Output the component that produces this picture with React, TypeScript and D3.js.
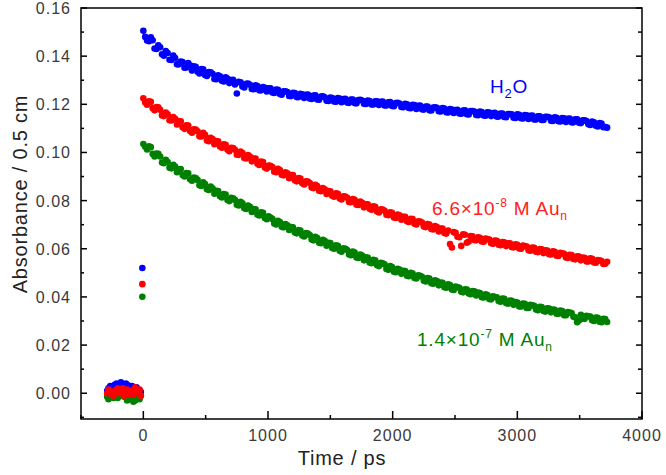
import React from "react";
import * as d3 from "d3";

// time grid of the decay traces (ps)
const times = [
  0, 30, 60, 90, 120, 150, 180, 210, 240, 270, 300, 330, 360, 390, 420, 450, 480, 510, 540, 570,
  600, 630, 660, 690, 720, 750, 780, 810, 840, 870, 900, 930, 960, 990, 1020, 1050, 1080, 1110, 1140, 1170,
  1200, 1230, 1260, 1290, 1320, 1350, 1380, 1410, 1440, 1470, 1500, 1530, 1560, 1590, 1620, 1650, 1680, 1710, 1740, 1770,
  1800, 1830, 1860, 1890, 1920, 1950, 1980, 2010, 2040, 2070, 2100, 2130, 2160, 2190, 2220, 2250, 2280, 2310, 2340, 2370,
  2400, 2430, 2460, 2490, 2520, 2550, 2580, 2610, 2640, 2670, 2700, 2730, 2760, 2790, 2820, 2850, 2880, 2910, 2940, 2970,
  3000, 3030, 3060, 3090, 3120, 3150, 3180, 3210, 3240, 3270, 3300, 3330, 3360, 3390, 3420, 3450, 3480, 3510, 3540, 3570,
  3600, 3630, 3660, 3690, 3720,
];

const water = [
  0.1505, 0.1465, 0.1478, 0.1432, 0.1445, 0.1408, 0.1421, 0.1385, 0.1402, 0.1366, 0.1378, 0.1352, 0.1371, 0.134, 0.1356, 0.1328, 0.1345, 0.1318, 0.1333, 0.1305,
  0.1321, 0.1298, 0.1312, 0.1288, 0.1302, 0.1245, 0.1291, 0.127, 0.1286, 0.1264, 0.1279, 0.1258, 0.1272, 0.1253, 0.1266, 0.1247, 0.126, 0.124, 0.1254, 0.1235,
  0.1248, 0.123, 0.1244, 0.1226, 0.1241, 0.1222, 0.1237, 0.1219, 0.1233, 0.1215, 0.1228, 0.1212, 0.1226, 0.1209, 0.1223, 0.1206, 0.122, 0.1204, 0.1219, 0.1202,
  0.1216, 0.1199, 0.1213, 0.1197, 0.1211, 0.1195, 0.1209, 0.1192, 0.1206, 0.1189, 0.1202, 0.1185, 0.1198, 0.1181, 0.1195, 0.1178, 0.1191, 0.1174, 0.1188, 0.1171,
  0.1184, 0.1167, 0.118, 0.1164, 0.1177, 0.1161, 0.1175, 0.1158, 0.1172, 0.1156, 0.117, 0.1154, 0.1167, 0.1151, 0.1165, 0.1149, 0.1162, 0.1146, 0.116, 0.1144,
  0.1158, 0.1142, 0.1155, 0.1139, 0.1153, 0.1137, 0.115, 0.1135, 0.1148, 0.1132, 0.1146, 0.113, 0.1143, 0.1127, 0.1141, 0.1125, 0.1138, 0.1122, 0.1134, 0.1117,
  0.1128, 0.1111, 0.1122, 0.1105, 0.1103,
];

const auLow = [
  0.1225, 0.1198, 0.121, 0.1175, 0.1188, 0.1154, 0.1166, 0.1134, 0.1147, 0.1116, 0.1129, 0.1098, 0.1112, 0.1082, 0.1095, 0.1067, 0.1082, 0.105, 0.1061, 0.1034,
  0.1046, 0.102, 0.1032, 0.1005, 0.1018, 0.0991, 0.1004, 0.0977, 0.0989, 0.0963, 0.0975, 0.0948, 0.096, 0.0933, 0.0945, 0.092, 0.0932, 0.0907, 0.0918, 0.0893,
  0.0906, 0.088, 0.0892, 0.0867, 0.0879, 0.0854, 0.0866, 0.0841, 0.0852, 0.0828, 0.0839, 0.0816, 0.0828, 0.0805, 0.0817, 0.0794, 0.0807, 0.0783, 0.0796, 0.0772,
  0.0785, 0.0762, 0.0774, 0.0751, 0.0763, 0.0741, 0.0752, 0.073, 0.0742, 0.0721, 0.0733, 0.0711, 0.0723, 0.0701, 0.0713, 0.0692, 0.0703, 0.0682, 0.0694, 0.0672,
  0.0684, 0.0663, 0.062, 0.0669, 0.065, 0.0612, 0.0658, 0.063, 0.0652, 0.0635, 0.0646, 0.0629, 0.064, 0.0623, 0.0634, 0.0617, 0.0628, 0.0611, 0.0623, 0.0606,
  0.0617, 0.06, 0.0611, 0.0594, 0.0605, 0.0588, 0.0599, 0.0582, 0.0593, 0.0576, 0.0587, 0.057, 0.0581, 0.0564, 0.0575, 0.0558, 0.0569, 0.0552, 0.0563, 0.0547,
  0.0558, 0.0542, 0.0552, 0.0537, 0.0546,
];

const auHigh = [
  0.1035, 0.1012, 0.1022, 0.0983, 0.0994, 0.0958, 0.097, 0.0936, 0.0949, 0.0918, 0.0931, 0.09, 0.0913, 0.0883, 0.0894, 0.0864, 0.0876, 0.0847, 0.0858, 0.0829,
  0.084, 0.0813, 0.0825, 0.0798, 0.081, 0.0783, 0.0795, 0.0768, 0.0779, 0.0753, 0.0764, 0.0738, 0.0749, 0.0723, 0.073, 0.0705, 0.0716, 0.0691, 0.0703, 0.0678,
  0.0689, 0.0664, 0.0676, 0.0651, 0.0663, 0.0638, 0.065, 0.0625, 0.0637, 0.0613, 0.0624, 0.06, 0.0612, 0.0588, 0.06, 0.0576, 0.0588, 0.0564, 0.0576, 0.0552,
  0.0564, 0.054, 0.0552, 0.0528, 0.054, 0.0516, 0.0528, 0.0505, 0.0517, 0.0496, 0.0507, 0.0486, 0.0497, 0.0477, 0.0488, 0.0467, 0.0478, 0.0457, 0.0469, 0.0448,
  0.0459, 0.0438, 0.0449, 0.0429, 0.044, 0.0422, 0.0432, 0.0414, 0.0424, 0.0406, 0.0416, 0.0398, 0.0408, 0.039, 0.04, 0.0383, 0.0393, 0.0375, 0.0385, 0.0367,
  0.0377, 0.036, 0.0371, 0.0354, 0.0365, 0.0348, 0.0359, 0.0342, 0.0353, 0.0336, 0.0347, 0.033, 0.0341, 0.0324, 0.0335, 0.0318, 0.0295, 0.0326, 0.0309, 0.032,
  0.0303, 0.0314, 0.0297, 0.0309, 0.0296,
];

// the interleaved sweep, offset by half a step
const times2 = [
  15, 45, 75, 105, 135, 165, 195, 225, 255, 285, 315, 345, 375, 405, 435, 465, 495, 525, 555, 585,
  615, 645, 675, 705, 735, 765, 795, 825, 855, 885, 915, 945, 975, 1005, 1035, 1065, 1095, 1125, 1155, 1185,
  1215, 1245, 1275, 1305, 1335, 1365, 1395, 1425, 1455, 1485, 1515, 1545, 1575, 1605, 1635, 1665, 1695, 1725, 1755, 1785,
  1815, 1845, 1875, 1905, 1935, 1965, 1995, 2025, 2055, 2085, 2115, 2145, 2175, 2205, 2235, 2265, 2295, 2325, 2355, 2385,
  2415, 2445, 2475, 2505, 2535, 2565, 2595, 2625, 2655, 2685, 2715, 2745, 2775, 2805, 2835, 2865, 2895, 2925, 2955, 2985,
  3015, 3045, 3075, 3105, 3135, 3165, 3195, 3225, 3255, 3285, 3315, 3345, 3375, 3405, 3435, 3465, 3495, 3525, 3555, 3585,
  3615, 3645, 3675, 3705,
];

const water2 = [
  0.148, 0.1462, 0.1466, 0.143, 0.1437, 0.1402, 0.1413, 0.1384, 0.1392, 0.1366, 0.1376, 0.1353, 0.1362, 0.1358, 0.1335, 0.1346, 0.1322, 0.1334, 0.1327, 0.1304,
  0.1316, 0.1295, 0.1307, 0.1301, 0.1282, 0.1293, 0.1274, 0.1285, 0.1281, 0.1263, 0.1276, 0.1258, 0.1269, 0.1266, 0.1249, 0.1261, 0.1243, 0.1254, 0.1251, 0.1234,
  0.1247, 0.123, 0.1242, 0.1239, 0.1224, 0.1236, 0.122, 0.1232, 0.1229, 0.1214, 0.1226, 0.1211, 0.1224, 0.1222, 0.1207, 0.122, 0.1205, 0.1218, 0.1216, 0.1201,
  0.1214, 0.1199, 0.1212, 0.121, 0.1195, 0.1208, 0.1193, 0.1205, 0.1203, 0.1188, 0.12, 0.1184, 0.1197, 0.1194, 0.1179, 0.1191, 0.1175, 0.1187, 0.1185, 0.117,
  0.1182, 0.1166, 0.1178, 0.1176, 0.1162, 0.1174, 0.1159, 0.1172, 0.117, 0.1155, 0.1168, 0.1153, 0.1166, 0.1164, 0.1149, 0.1162, 0.1147, 0.116, 0.1158, 0.1143,
  0.1156, 0.1141, 0.1154, 0.1152, 0.1137, 0.115, 0.1135, 0.1148, 0.1146, 0.1131, 0.1144, 0.1129, 0.1142, 0.114, 0.1125, 0.1138, 0.1123, 0.1134, 0.113, 0.1114,
  0.1125, 0.1108, 0.112, 0.1106,
];

const auLow2 = [
  0.1208, 0.1212, 0.1184, 0.1189, 0.1177, 0.1151, 0.1158, 0.1133, 0.114, 0.113, 0.1105, 0.1113, 0.1089, 0.1096, 0.1088, 0.1066, 0.1073, 0.1047, 0.1056, 0.1047,
  0.1025, 0.1034, 0.1011, 0.1019, 0.1011, 0.099, 0.0998, 0.0975, 0.0983, 0.0975, 0.0953, 0.0962, 0.0938, 0.0946, 0.0939, 0.0918, 0.0927, 0.0905, 0.0913, 0.0906,
  0.0885, 0.0894, 0.0872, 0.088, 0.0873, 0.0852, 0.0861, 0.0839, 0.0847, 0.084, 0.082, 0.083, 0.0809, 0.0818, 0.0812, 0.0793, 0.0803, 0.0782, 0.0791, 0.0785,
  0.0766, 0.0776, 0.0755, 0.0764, 0.0758, 0.0739, 0.0749, 0.0728, 0.0739, 0.0733, 0.0714, 0.0725, 0.0704, 0.0714, 0.0709, 0.069, 0.0701, 0.068, 0.069, 0.0684,
  0.0666, 0.0676, 0.0605, 0.0666, 0.0648, 0.066, 0.0625, 0.0653, 0.0636, 0.0648, 0.063, 0.0642, 0.0638, 0.0621, 0.0633, 0.0615, 0.0627, 0.0623, 0.0607, 0.0619,
  0.0601, 0.0613, 0.0609, 0.0592, 0.0604, 0.0586, 0.0598, 0.0594, 0.0577, 0.0589, 0.0571, 0.0583, 0.0579, 0.0562, 0.0574, 0.0556, 0.0568, 0.0564, 0.0547, 0.056,
  0.0543, 0.0553, 0.0549, 0.0538,
];

const auHigh2 = [
  0.1024, 0.1026, 0.0994, 0.0996, 0.0983, 0.0955, 0.096, 0.0934, 0.0941, 0.093, 0.0906, 0.0914, 0.0889, 0.0896, 0.0886, 0.0861, 0.0869, 0.0844, 0.0851, 0.0841,
  0.0818, 0.0827, 0.0803, 0.0812, 0.0803, 0.078, 0.0789, 0.0765, 0.0774, 0.0765, 0.0742, 0.0751, 0.0728, 0.0735, 0.0724, 0.0701, 0.0711, 0.0689, 0.0698, 0.069,
  0.0668, 0.0678, 0.0655, 0.0665, 0.0657, 0.0635, 0.0645, 0.0623, 0.0633, 0.0625, 0.0603, 0.0614, 0.0592, 0.0602, 0.0595, 0.0573, 0.0584, 0.0562, 0.0572, 0.0565,
  0.0543, 0.0554, 0.0532, 0.0542, 0.0535, 0.0513, 0.0524, 0.0503, 0.0514, 0.0509, 0.0488, 0.05, 0.0479, 0.049, 0.0484, 0.0464, 0.0476, 0.0455, 0.0466, 0.046,
  0.044, 0.0452, 0.0431, 0.0443, 0.0438, 0.0419, 0.0431, 0.0411, 0.0423, 0.0418, 0.0399, 0.0411, 0.0391, 0.0403, 0.0398, 0.038, 0.0392, 0.0372, 0.0384, 0.0379,
  0.036, 0.0373, 0.0354, 0.0367, 0.0363, 0.0345, 0.0358, 0.0339, 0.0352, 0.0348, 0.033, 0.0343, 0.0324, 0.0337, 0.0333, 0.0315, 0.0302, 0.031, 0.0322, 0.0318,
  0.03, 0.0313, 0.0295, 0.0308,
];

// baseline before time zero plus the single point at the pump arrival
const preTimes = [
  -290, -280, -265, -255, -240, -230, -215, -205, -190, -180, -165, -155, -140, -130, -115, -105, -90, -80, -65, -55, -40, -30, -20, -8,
];
const waterPre = [
  0.001, 0.002, 0.003, 0.0015, 0.0025, 0.0035, 0.004, 0.003, 0.0035, 0.0045, 0.003, 0.002, 0.004, 0.0035, 0.0025, 0.003, 0.003, 0.0015, 0.002, 0.0025, 0.0015, 0.001, 0.0005, 0.052,
];
const auLowPre = [
  0.0, 0.0015, 0.001, -0.0005, -0.001, 0.0005, 0.0015, 0.002, 0.0, 0.001, 0.002, -0.001, 0.0005, 0.0015, -0.0005, 0.001, 0.001, -0.0005, 0.0025, 0.0005, 0.0, 0.0015, -0.001, 0.0453,
];
const auHighPre = [
  -0.0015, -0.0025, -0.0005, -0.001, -0.002, -0.0015, 0.0, -0.002, -0.001, 0.0, -0.0005, -0.0015, 0.0005, -0.003, -0.0025, -0.002, -0.0015, -0.0035, -0.003, -0.001, -0.002, -0.0025, -0.001, 0.0401,
];

const xMajor = [0, 1000, 2000, 3000, 4000];
const xMinor = [-500, 500, 1500, 2500, 3500];
const yMajor = [0, 0.02, 0.04, 0.06, 0.08, 0.1, 0.12, 0.14, 0.16];
const yMinor = [-0.01, 0.01, 0.03, 0.05, 0.07, 0.09, 0.11, 0.13, 0.15];

const W = 666, H = 475;
const left = 81, right = 642, top = 8, bottom = 419;

export default function App() {
  const x = d3.scaleLinear().domain([-500, 4000]).range([left, right]);
  const y = d3.scaleLinear().domain([-0.0107, 0.16]).range([bottom, top]);

  const series = [
    { pre: waterPre, a: water, b: water2, color: "#0000ff" },
    { pre: auHighPre, a: auHigh, b: auHigh2, color: "#008000" },
    { pre: auLowPre, a: auLow, b: auLow2, color: "#ff0000" },
  ];
  const r = 3.3;

  const tickFont = { fontFamily: "Liberation Sans, Arial, sans-serif", fontSize: 16, letterSpacing: 1, fill: "#3a3a3a" };
  const lblFont = { fontFamily: "Liberation Sans, Arial, sans-serif", fontSize: 19, letterSpacing: 0.8 };

  return (
    <svg width={W} height={H} style={{ position: "absolute", left: 0, top: 0, background: "#fff" }}>
      {series.map((s, i) => (
        <g key={i} fill={s.color}>
          {preTimes.map((t, j) => (
            <circle key={"p" + j} cx={x(t)} cy={y(s.pre[j])} r={r} />
          ))}
          {times.map((t, j) => (
            <circle key={"a" + j} cx={x(t)} cy={y(s.a[j])} r={r} />
          ))}
          {times2.map((t, j) => (
            <circle key={"b" + j} cx={x(t)} cy={y(s.b[j])} r={r} />
          ))}
        </g>
      ))}

      {/* frame */}
      <rect x={left} y={top} width={right - left} height={bottom - top} fill="none" stroke="#000" strokeWidth={1.5} />

      {/* x ticks, pointing inward */}
      {xMajor.map((v) => (
        <line key={"xm" + v} x1={x(v)} x2={x(v)} y1={bottom} y2={bottom - 8} stroke="#000" strokeWidth={1.5} />
      ))}
      {xMinor.map((v) => (
        <line key={"xn" + v} x1={x(v)} x2={x(v)} y1={bottom} y2={bottom - 4} stroke="#000" strokeWidth={1.5} />
      ))}
      {xMajor.map((v) => (
        <text key={"xl" + v} x={x(v)} y={441} textAnchor="middle" {...tickFont}>{v}</text>
      ))}

      {/* y ticks on left and right */}
      {yMajor.map((v) => (
        <g key={"ym" + v}>
          <line x1={left} x2={left + 6} y1={y(v)} y2={y(v)} stroke="#000" strokeWidth={1.5} />
          <line x1={right} x2={right - 6} y1={y(v)} y2={y(v)} stroke="#000" strokeWidth={1.5} />
          <text x={71} y={y(v) + 6} textAnchor="end" {...tickFont}>{v.toFixed(2)}</text>
        </g>
      ))}
      {yMinor.map((v) => (
        <g key={"yn" + v}>
          <line x1={left} x2={left + 3} y1={y(v)} y2={y(v)} stroke="#000" strokeWidth={1.5} />
          <line x1={right} x2={right - 4} y1={y(v)} y2={y(v)} stroke="#000" strokeWidth={1.5} />
        </g>
      ))}

      {/* axis titles */}
      <text x={342} y={465} textAnchor="middle" fontFamily="Liberation Sans, Arial, sans-serif" fontSize={20} letterSpacing={0.8} fill="#222">
        Time / ps
      </text>
      <text transform="translate(27,194) rotate(-90)" textAnchor="middle" fontFamily="Liberation Sans, Arial, sans-serif" fontSize={20} letterSpacing={0.8} fill="#222">
        Absorbance / 0.5 cm
      </text>

      {/* trace labels */}
      <text x={490} y={93} fill="#0000ff" {...lblFont}>
        H<tspan fontSize={13} dy={5}>2</tspan><tspan dy={-5}>O</tspan>
      </text>
      <text x={432} y={215} fill="#ff2020" {...lblFont}>
        6.6×10<tspan fontSize={12} dy={-8}>-8</tspan><tspan dy={8}> M Au</tspan><tspan fontSize={12} dy={5}>n</tspan>
      </text>
      <text x={417} y={346} fill="#008000" {...lblFont}>
        1.4×10<tspan fontSize={12} dy={-8}>-7</tspan><tspan dy={8}> M Au</tspan><tspan fontSize={12} dy={5}>n</tspan>
      </text>
    </svg>
  );
}
